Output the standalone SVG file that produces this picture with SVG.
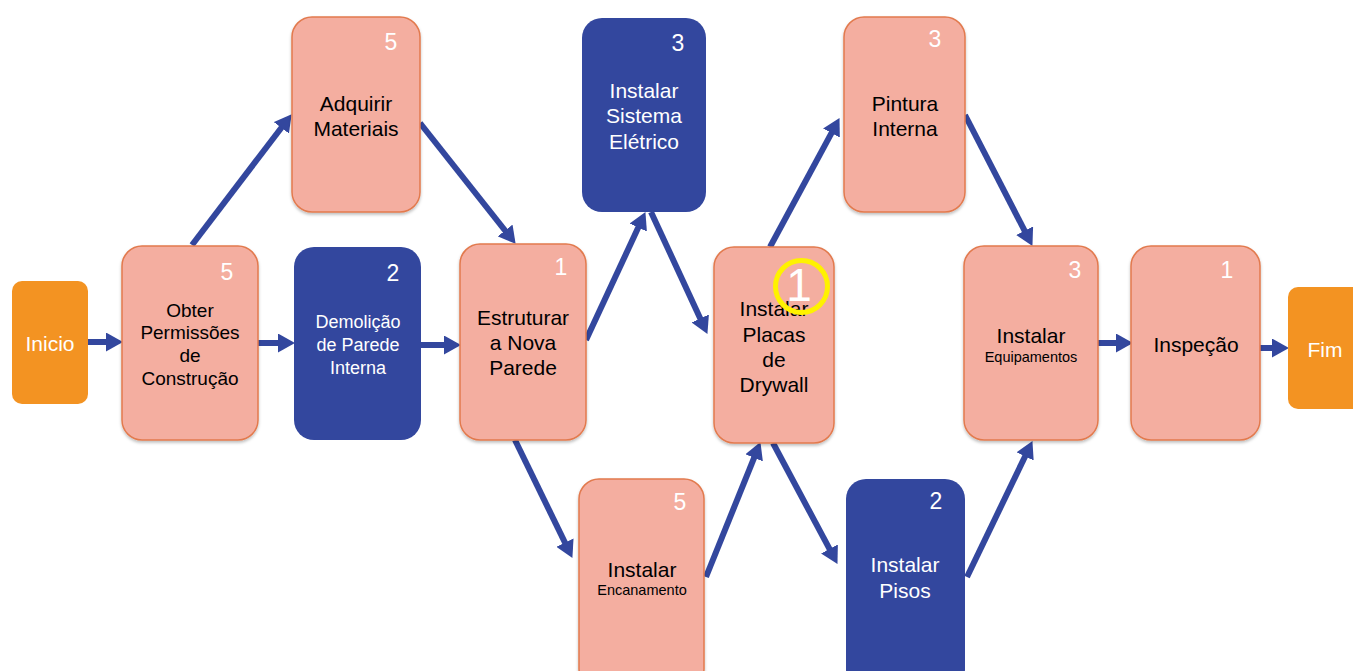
<svg xmlns="http://www.w3.org/2000/svg" width="1353" height="671" viewBox="0 0 1353 671">
<style>
.pink{fill:#F4AEA0;stroke:#E27A4E;stroke-width:1.5}
.blue{fill:#33479E}
.orange{fill:#F39322}
text{font-family:"Liberation Sans",Arial,sans-serif;text-anchor:middle;dominant-baseline:central}
.t{fill:#000;font-size:21px}
.ts{fill:#000;font-size:19px}
.sm{fill:#000;font-size:14.5px}
.w{fill:#fff;font-size:21px}
.ws{fill:#fff;font-size:18px}
.num{fill:#fff;font-size:23px}
.conn line{stroke:#33479E;stroke-width:6;marker-end:url(#ah)}
</style>
<defs>
<marker id="ah" markerUnits="userSpaceOnUse" markerWidth="17" markerHeight="19" refX="6" refY="9.5" orient="auto">
<path d="M0,0 L17,9.5 L0,19 z" fill="#33479E"/>
</marker>
<filter id="sh" x="-10%" y="-10%" width="120%" height="120%">
<feDropShadow dx="0" dy="2" stdDeviation="1.5" flood-color="#000" flood-opacity="0.25"/>
</filter>
</defs>
<rect width="1353" height="671" fill="#fff"/>
<g class="conn">
<line x1="88" y1="342" x2="112" y2="342"/>
<line x1="258" y1="343" x2="284" y2="343"/>
<line x1="192" y1="245" x2="285" y2="123"/>
<line x1="420" y1="123" x2="508.8" y2="235.2"/>
<line x1="421" y1="345" x2="450" y2="345"/>
<line x1="586" y1="340" x2="640.8" y2="222.1"/>
<line x1="651" y1="212" x2="702.8" y2="323.9"/>
<line x1="515" y1="440" x2="567.6" y2="548"/>
<line x1="706" y1="577" x2="756.3" y2="452.3"/>
<line x1="770" y1="247" x2="834.3" y2="127.8"/>
<line x1="773" y1="443" x2="832.3" y2="554.2"/>
<line x1="965" y1="115" x2="1027.4" y2="236.1"/>
<line x1="967" y1="577" x2="1027.7" y2="451"/>
<line x1="1098" y1="343" x2="1122" y2="343"/>
<line x1="1260" y1="348" x2="1278" y2="348"/>
</g>
<g id="inicio">
<rect class="orange" x="12" y="281" width="76" height="123" rx="10"/>
<text class="w" x="50" y="343" font-size="20">Inicio</text>
</g>
<g id="obter">
<rect class="pink" filter="url(#sh)" x="122" y="246" width="136" height="194" rx="20"/>
<text class="num" x="227" y="272">5</text>
<text class="ts" x="190" y="310">Obter</text>
<text class="ts" x="190" y="332">Permissões</text>
<text class="ts" x="190" y="355">de</text>
<text class="ts" x="190" y="378">Construção</text>
</g>
<g id="adquirir">
<rect class="pink" filter="url(#sh)" x="292" y="17" width="128" height="195" rx="20"/>
<text class="num" x="391" y="42">5</text>
<text class="t" x="356" y="103">Adquirir</text>
<text class="t" x="356" y="128">Materiais</text>
</g>
<g id="demolicao">
<rect class="blue" x="294" y="247" width="127" height="193" rx="20"/>
<text class="num" x="393" y="273">2</text>
<text class="ws" x="358" y="322">Demolição</text>
<text class="ws" x="358" y="345">de Parede</text>
<text class="ws" x="358" y="368">Interna</text>
</g>
<g id="estruturar">
<rect class="pink" filter="url(#sh)" x="460" y="244" width="126" height="196" rx="20"/>
<text class="num" x="561" y="267">1</text>
<text class="t" x="523" y="317" font-size="20">Estruturar</text>
<text class="t" x="523" y="342" font-size="20">a Nova</text>
<text class="t" x="523" y="367" font-size="20">Parede</text>
</g>
<g id="eletrico">
<rect class="blue" x="582" y="18" width="124" height="194" rx="20"/>
<text class="num" x="678" y="43">3</text>
<text class="w" x="644" y="90">Instalar</text>
<text class="w" x="644" y="115">Sistema</text>
<text class="w" x="644" y="141">Elétrico</text>
</g>
<g id="encanamento">
<rect class="pink" filter="url(#sh)" x="579" y="479" width="125" height="210" rx="20"/>
<text class="num" x="680" y="502">5</text>
<text class="t" x="642" y="569">Instalar</text>
<text class="sm" x="642" y="590">Encanamento</text>
</g>
<g id="drywall">
<rect class="pink" filter="url(#sh)" x="714" y="247" width="120" height="196" rx="20"/>
<text class="t" x="774" y="308">Instalar</text>
<text class="t" x="774" y="334">Placas</text>
<text class="t" x="774" y="359">de</text>
<text class="t" x="774" y="384">Drywall</text>
<text x="799" y="285" fill="#fff" font-size="46">1</text>
<circle cx="801.5" cy="286.5" r="26" fill="none" stroke="#FFF200" stroke-width="5"/>
</g>
<g id="pintura">
<rect class="pink" filter="url(#sh)" x="844" y="17" width="121" height="195" rx="20"/>
<text class="num" x="935" y="39">3</text>
<text class="t" x="905" y="103">Pintura</text>
<text class="t" x="905" y="128">Interna</text>
</g>
<g id="pisos">
<rect class="blue" x="846" y="479" width="119" height="210" rx="20"/>
<text class="num" x="936" y="501">2</text>
<text class="w" x="905" y="564">Instalar</text>
<text class="w" x="905" y="590">Pisos</text>
</g>
<g id="equipamentos">
<rect class="pink" filter="url(#sh)" x="964" y="246" width="134" height="194" rx="20"/>
<text class="num" x="1075" y="270">3</text>
<text class="t" x="1031" y="335">Instalar</text>
<text class="sm" x="1031" y="357">Equipamentos</text>
</g>
<g id="inspecao">
<rect class="pink" filter="url(#sh)" x="1131" y="246" width="129" height="194" rx="20"/>
<text class="num" x="1227" y="270">1</text>
<text class="t" x="1196" y="344">Inspeção</text>
</g>
<g id="fim">
<rect class="orange" x="1288" y="287" width="80" height="122" rx="10"/>
<text class="w" x="1325" y="349" font-size="20">Fim</text>
</g>
</svg>
